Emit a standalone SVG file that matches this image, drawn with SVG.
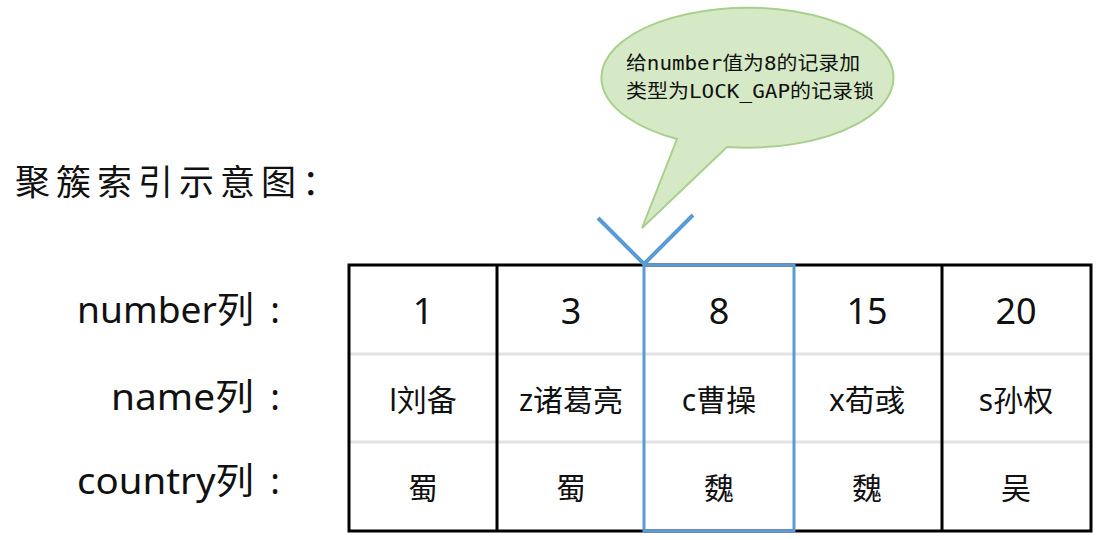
<svg xmlns="http://www.w3.org/2000/svg" width="1102" height="540" viewBox="0 0 1102 540">
<style>
.lbl{font-family:"Noto Sans","Noto Sans CJK SC",sans-serif;font-size:36px;fill:#111}
.col{font-family:"Noto Sans","Noto Sans CJK SC",sans-serif;font-size:36px;fill:#111;text-anchor:middle}
.num{font-family:"Noto Sans","Noto Sans CJK SC",sans-serif;font-size:36px;fill:#111;text-anchor:middle}
.cell{font-family:"Noto Sans","Noto Sans CJK SC",sans-serif;font-size:30px;fill:#111;text-anchor:middle}
.tip{font-family:"DejaVu Sans Mono","Noto Sans CJK SC",monospace;font-size:19px;fill:#111}
.grid{stroke:#000;stroke-width:3;fill:none}
.row{stroke:#e2e2e2;stroke-width:3}
</style>
<rect width="1102" height="540" fill="#fff"/>
<g id="title">
<text x="15" y="195" font-family="Noto Sans CJK SC,sans-serif" font-size="35" letter-spacing="6" fill="#111">聚簇索引示意图：</text>
</g>
<g id="labels">
<text class="lbl" x="77" y="323" textLength="177" lengthAdjust="spacingAndGlyphs">number列</text>
<text class="col" x="275" y="323">:</text>
<text class="lbl" x="111" y="410" textLength="143" lengthAdjust="spacingAndGlyphs">name列</text>
<text class="col" x="275" y="410">:</text>
<text class="lbl" x="77" y="494" textLength="177" lengthAdjust="spacingAndGlyphs">country列</text>
<text class="col" x="275" y="494">:</text>
</g>
<g id="table">
<line class="row" x1="349" y1="354" x2="1091" y2="354"/>
<line class="row" x1="349" y1="442" x2="1091" y2="442"/>
<rect class="grid" x="349" y="265" width="742" height="266"/>
<line class="grid" x1="497" y1="265" x2="497" y2="531"/>
<line class="grid" x1="942" y1="265" x2="942" y2="531"/>
</g>
<g id="col1">
<text class="num" x="423" y="324">1</text>
<text class="cell" x="423" y="411">l刘备</text>
<text class="cell" x="423" y="499">蜀</text>
</g>
<g id="col3">
<text class="num" x="571" y="324">3</text>
<text class="cell" x="571" y="411">z诸葛亮</text>
<text class="cell" x="571" y="499">蜀</text>
</g>
<g id="col8">
<rect x="644" y="265" width="150" height="266" fill="none" stroke="#5b9bd5" stroke-width="3"/>
<text class="num" x="719" y="324">8</text>
<text class="cell" x="719" y="411">c曹操</text>
<text class="cell" x="719" y="499">魏</text>
</g>
<g id="col15">
<text class="num" x="867" y="324">15</text>
<text class="cell" x="867" y="411">x荀彧</text>
<text class="cell" x="867" y="499">魏</text>
</g>
<g id="col20">
<text class="num" x="1016" y="324">20</text>
<text class="cell" x="1016" y="411">s孙权</text>
<text class="cell" x="1016" y="499">吴</text>
</g>
<g id="connectors">
<polyline points="598,218 644,264 693,215" fill="none" stroke="#5b9bd5" stroke-width="4"/>
</g>
<g id="callout">
<path d="M677,139 L642,228 L727,147 A146 70 0 1 0 677,139 Z" fill="#d6e9c6" stroke="#a8d08d" stroke-width="2"/>
<text class="tip" x="626" y="70" textLength="234" lengthAdjust="spacingAndGlyphs">给number值为8的记录加</text>
<text class="tip" x="626" y="98" textLength="248" lengthAdjust="spacingAndGlyphs">类型为LOCK_GAP的记录锁</text>
</g>
</svg>
